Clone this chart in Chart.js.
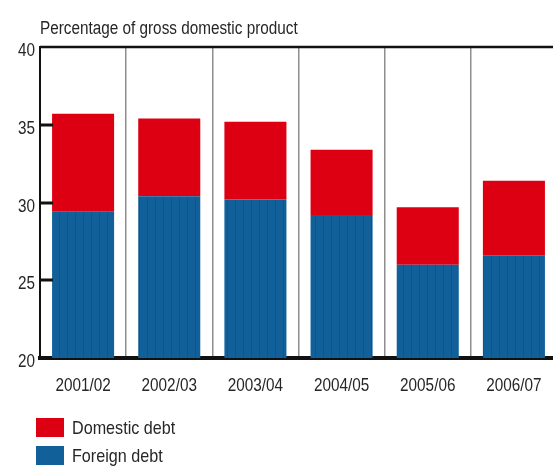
<!DOCTYPE html>
<html>
<head>
<meta charset="utf-8">
<script src="https://cdn.jsdelivr.net/npm/chart.js@4/dist/chart.umd.min.js"></script>
<style>
  html, body { margin: 0; padding: 0; background: #fff; overflow: hidden; }
  #wrap { width: 553px; height: 475px; position: relative; overflow: hidden; }
  #c { position: absolute; left: 0; top: 0; }
</style>
</head>
<body>
<div id="wrap"><canvas id="c" width="557" height="475"></canvas></div>
<script>
// Public debt by fiscal year, percentage of GDP
const years = ['2001/02', '2002/03', '2003/04', '2004/05', '2005/06', '2006/07'];
const foreignDebt = [29.4, 30.4, 30.2, 29.2, 26.0, 26.6];
const domesticDebt = [6.3, 5.0, 5.0, 4.2, 3.7, 4.8];
const yTicks = [20, 25, 30, 35, 40];
const axisTitle = 'Percentage of gross domestic product';

const FONT = "'Liberation Sans', Arial, sans-serif";
const SQUEEZE = 0.85;          // horizontal compression for a condensed look
const TEXT = '#262626';
const RED = '#dc0012';
const BLUE = '#11609a';

// Blue fill with fine vertical stripes
function stripePattern() {
  const p = document.createElement('canvas');
  p.width = 8; p.height = 8;
  const g = p.getContext('2d');
  g.fillStyle = BLUE;
  g.fillRect(0, 0, 8, 8);
  g.fillStyle = '#0d558f';
  g.fillRect(3, 0, 1, 8);
  return g.createPattern(p, 'repeat');
}
const blueFill = stripePattern();

// Condensed text: draw with a horizontal scale about the anchor point
function condensedText(ctx, str, x, y, size, align) {
  ctx.save();
  ctx.font = size + 'px ' + FONT;
  ctx.fillStyle = TEXT;
  ctx.textAlign = align;
  ctx.textBaseline = 'alphabetic';
  ctx.translate(x, y);
  ctx.scale(SQUEEZE, 1);
  ctx.fillText(str, 0, 0);
  ctx.restore();
}

const frame = {
  id: 'frame',
  afterDraw(chart) {
    const { ctx, chartArea: a, scales } = chart;
    const y = scales.y, x = scales.x;
    ctx.save();
    // top rule
    ctx.strokeStyle = '#111';
    ctx.lineWidth = 2.5;
    ctx.beginPath();
    ctx.moveTo(a.left, a.top);
    ctx.lineTo(a.right, a.top);
    ctx.stroke();
    // inward tick marks
    ctx.lineWidth = 3;
    yTicks.slice(1, -1).forEach(v => {
      const py = Math.round(y.getPixelForValue(v));
      ctx.beginPath();
      ctx.moveTo(a.left, py);
      ctx.lineTo(a.left + 13, py);
      ctx.stroke();
    });
    ctx.restore();

    // y tick labels
    yTicks.forEach(v => {
      condensedText(ctx, String(v), a.left - 5, y.getPixelForValue(v) + 9, 18, 'right');
    });
    // category labels
    chart.data.labels.forEach((lab, i) => {
      condensedText(ctx, lab, x.getPixelForTick(i), 391, 18, 'center');
    });
    // axis title
    condensedText(ctx, axisTitle, a.left, 34, 18, 'left');

    // legend (top of stack first)
    const items = chart.data.datasets.slice().reverse();
    items.forEach((ds, i) => {
      const top = 418 + i * 28;
      ctx.fillStyle = ds.legendColor;
      ctx.fillRect(36, top, 28, 19);
      condensedText(ctx, ds.label, 72, top + 16, 19, 'left');
    });
  }
};

new Chart(document.getElementById('c'), {
  type: 'bar',
  data: {
    labels: years,
    datasets: [
      { label: 'Foreign debt', data: foreignDebt, backgroundColor: blueFill, legendColor: BLUE, stack: 's' },
      { label: 'Domestic debt', data: domesticDebt, backgroundColor: RED, legendColor: RED, stack: 's' }
    ]
  },
  options: {
    responsive: false,
    animation: false,
    layout: { padding: { top: 47, right: 0, bottom: 0, left: 0 } },
    datasets: { bar: { categoryPercentage: 1, barPercentage: 0.72, borderWidth: 0 } },
    plugins: { legend: { display: false }, tooltip: { enabled: false } },
    scales: {
      x: {
        stacked: true,
        grid: { offset: true, color: '#8e8e8e', lineWidth: 1.5, drawTicks: false },
        border: { color: '#111', width: 4 },
        ticks: { display: false },
        afterFit(s) { s.height = 117; }
      },
      y: {
        stacked: true,
        min: 20, max: 40,
        afterBuildTicks(s) { s.ticks = yTicks.map(v => ({ value: v })); },
        grid: { display: false, drawTicks: false },
        border: { color: '#111', width: 2 },
        ticks: { display: false },
        afterFit(s) { s.width = 40; }
      }
    }
  },
  plugins: [frame]
});
</script>
</body>
</html>
